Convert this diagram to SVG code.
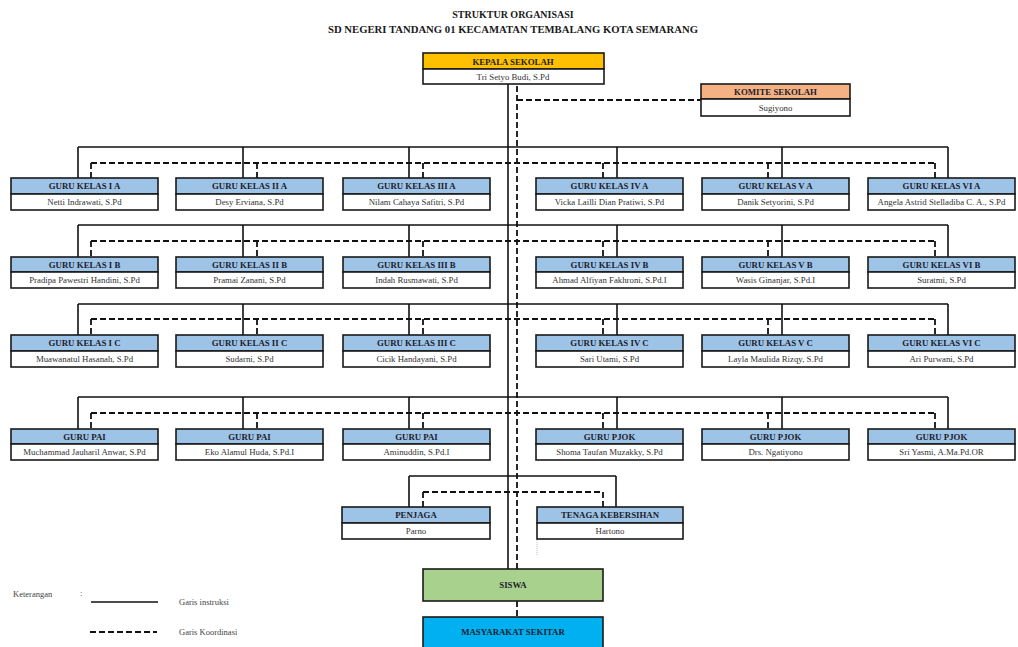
<svg xmlns="http://www.w3.org/2000/svg" width="1018" height="647" viewBox="0 0 1018 647">
<style>
.t{font-family:"Liberation Serif","Times New Roman",serif;font-weight:bold;fill:#1a1a1a;text-anchor:middle}
.h{font-family:"Liberation Serif","Times New Roman",serif;font-weight:bold;font-size:8.8px;fill:#1c1c2c;text-anchor:middle}
.n{font-family:"Liberation Serif","Times New Roman",serif;font-size:8.8px;fill:#333;text-anchor:middle}
.l{font-family:"Liberation Serif","Times New Roman",serif;font-size:8.5px;fill:#444}
.box{stroke:#1a1a1a;stroke-width:1.6}
.hd{fill:#9dc3e6}
.wh{fill:#ffffff}
.sl{fill:none;stroke:#111;stroke-width:1.6}
.ds{fill:none;stroke:#111;stroke-width:1.8;stroke-dasharray:6 3}
</style>
<rect width="1018" height="647" fill="#ffffff"/>
<text class="t" x="513" y="18" font-size="10">STRUKTUR ORGANISASI</text>
<text class="t" x="513" y="33" font-size="10" textLength="370" lengthAdjust="spacingAndGlyphs">SD NEGERI TANDANG 01 KECAMATAN TEMBALANG KOTA SEMARANG</text>

<g id="connectors">
<path class="sl" d="M508 84V569"/>
<path class="ds" d="M517 86V601M517 100H701M517 601V617"/>
<path class="sl" d="M78 147H948M78 147V178M243 147V178M409 147V178M617 147V178M782 147V178M948 147V178"/>
<path class="ds" d="M91 163H935M91 163V178M257 163V178M423 163V178M603 163V178M768 163V178M935 163V178"/>
<path class="sl" d="M78 225H948M78 225V257M243 225V257M409 225V257M617 225V257M782 225V257M948 225V257"/>
<path class="ds" d="M91 241H935M91 241V257M257 241V257M423 241V257M603 241V257M768 241V257M935 241V257"/>
<path class="sl" d="M78 304H948M78 304V335M243 304V335M409 304V335M617 304V335M782 304V335M948 304V335"/>
<path class="ds" d="M91 319H935M91 319V335M257 319V335M423 319V335M603 319V335M768 319V335M935 319V335"/>
<path class="sl" d="M78 397H948M78 397V429M243 397V429M409 397V429M617 397V429M782 397V429M948 397V429"/>
<path class="ds" d="M91 413H935M91 413V429M257 413V429M423 413V429M603 413V429M768 413V429M935 413V429"/>
<path class="sl" d="M409 476H616M409 476V507M616 476V507"/>
<path class="ds" d="M423 492H603M423 492V507M603 492V507"/>
<path d="M537 540V556" stroke="#bbb" stroke-width="1" stroke-dasharray="1 1"/>
</g>

<g id="kepala-sekolah">
<rect x="423" y="53" width="181" height="16" fill="#ffc000" class="box" stroke-width="2.2"/>
<rect x="423" y="69" width="181" height="15" fill="#fff" class="box" stroke-width="2.2"/>
<text class="h" x="513" y="64.5">KEPALA SEKOLAH</text>
<text class="n" x="513" y="80">Tri Setyo Budi, S.Pd</text>
</g>

<g id="komite-sekolah">
<rect x="701" y="84" width="149" height="15" fill="#f4b183" class="box" stroke-width="2"/>
<rect x="701" y="99" width="149" height="17" fill="#fff" class="box" stroke-width="2"/>
<text class="h" x="775.5" y="95">KOMITE SEKOLAH</text>
<text class="n" x="775.5" y="111">Sugiyono</text>
</g>

<g id="guru-kelas-1a"><rect class="box hd" x="11" y="178" width="147" height="16"/><rect class="box wh" x="11" y="194" width="147" height="16"/><text class="h" x="84.5" y="189">GURU KELAS I A</text><text class="n" x="84.5" y="205">Netti Indrawati, S.Pd</text></g>
<g id="guru-kelas-2a"><rect class="box hd" x="176" y="178" width="147" height="16"/><rect class="box wh" x="176" y="194" width="147" height="16"/><text class="h" x="249.5" y="189">GURU KELAS II A</text><text class="n" x="249.5" y="205">Desy Erviana, S.Pd</text></g>
<g id="guru-kelas-3a"><rect class="box hd" x="343" y="178" width="147" height="16"/><rect class="box wh" x="343" y="194" width="147" height="16"/><text class="h" x="416.5" y="189">GURU KELAS III A</text><text class="n" x="416.5" y="205">Nilam Cahaya Safitri, S.Pd</text></g>
<g id="guru-kelas-4a"><rect class="box hd" x="536" y="178" width="147" height="16"/><rect class="box wh" x="536" y="194" width="147" height="16"/><text class="h" x="609.5" y="189">GURU KELAS IV A</text><text class="n" x="609.5" y="205">Vicka Lailli Dian Pratiwi, S.Pd</text></g>
<g id="guru-kelas-5a"><rect class="box hd" x="702" y="178" width="147" height="16"/><rect class="box wh" x="702" y="194" width="147" height="16"/><text class="h" x="775.5" y="189">GURU KELAS V A</text><text class="n" x="775.5" y="205">Danik Setyorini, S.Pd</text></g>
<g id="guru-kelas-6a"><rect class="box hd" x="868" y="178" width="147" height="16"/><rect class="box wh" x="868" y="194" width="147" height="16"/><text class="h" x="941.5" y="189">GURU KELAS VI A</text><text class="n" x="941.5" y="205">Angela Astrid Stelladiba C. A., S.Pd</text></g>

<g id="guru-kelas-1b"><rect class="box hd" x="11" y="257" width="147" height="15"/><rect class="box wh" x="11" y="272" width="147" height="16"/><text class="h" x="84.5" y="267.5">GURU KELAS I B</text><text class="n" x="84.5" y="283">Pradipa Pawestri Handini, S.Pd</text></g>
<g id="guru-kelas-2b"><rect class="box hd" x="176" y="257" width="147" height="15"/><rect class="box wh" x="176" y="272" width="147" height="16"/><text class="h" x="249.5" y="267.5">GURU KELAS II B</text><text class="n" x="249.5" y="283">Pramai Zanani, S.Pd</text></g>
<g id="guru-kelas-3b"><rect class="box hd" x="343" y="257" width="147" height="15"/><rect class="box wh" x="343" y="272" width="147" height="16"/><text class="h" x="416.5" y="267.5">GURU KELAS III B</text><text class="n" x="416.5" y="283">Indah Rusmawati, S.Pd</text></g>
<g id="guru-kelas-4b"><rect class="box hd" x="536" y="257" width="147" height="15"/><rect class="box wh" x="536" y="272" width="147" height="16"/><text class="h" x="609.5" y="267.5">GURU KELAS IV B</text><text class="n" x="609.5" y="283">Ahmad Alfiyan Fakhroni, S.Pd.I</text></g>
<g id="guru-kelas-5b"><rect class="box hd" x="702" y="257" width="147" height="15"/><rect class="box wh" x="702" y="272" width="147" height="16"/><text class="h" x="775.5" y="267.5">GURU KELAS V B</text><text class="n" x="775.5" y="283">Wasis Ginanjar, S.Pd.I</text></g>
<g id="guru-kelas-6b"><rect class="box hd" x="868" y="257" width="147" height="15" stroke-width="2.4"/><rect class="box wh" x="868" y="272" width="147" height="16"/><text class="h" x="941.5" y="267.5">GURU KELAS VI B</text><text class="n" x="941.5" y="283">Suratmi, S.Pd</text></g>

<g id="guru-kelas-1c"><rect class="box hd" x="11" y="335" width="147" height="16"/><rect class="box wh" x="11" y="351" width="147" height="16"/><text class="h" x="84.5" y="346">GURU KELAS I C</text><text class="n" x="84.5" y="362">Muawanatul Hasanah, S.Pd</text></g>
<g id="guru-kelas-2c"><rect class="box hd" x="176" y="335" width="147" height="16"/><rect class="box wh" x="176" y="351" width="147" height="16"/><text class="h" x="249.5" y="346">GURU KELAS II C</text><text class="n" x="249.5" y="362">Sudarni, S.Pd</text></g>
<g id="guru-kelas-3c"><rect class="box hd" x="343" y="335" width="147" height="16"/><rect class="box wh" x="343" y="351" width="147" height="16"/><text class="h" x="416.5" y="346">GURU KELAS III C</text><text class="n" x="416.5" y="362">Cicik Handayani, S.Pd</text></g>
<g id="guru-kelas-4c"><rect class="box hd" x="536" y="335" width="147" height="16"/><rect class="box wh" x="536" y="351" width="147" height="16"/><text class="h" x="609.5" y="346">GURU KELAS IV C</text><text class="n" x="609.5" y="362">Sari Utami, S.Pd</text></g>
<g id="guru-kelas-5c"><rect class="box hd" x="702" y="335" width="147" height="16"/><rect class="box wh" x="702" y="351" width="147" height="16"/><text class="h" x="775.5" y="346">GURU KELAS V C</text><text class="n" x="775.5" y="362">Layla Maulida Rizqy, S.Pd</text></g>
<g id="guru-kelas-6c"><rect class="box hd" x="868" y="335" width="147" height="16"/><rect class="box wh" x="868" y="351" width="147" height="16"/><text class="h" x="941.5" y="346">GURU KELAS VI C</text><text class="n" x="941.5" y="362">Ari Purwani, S.Pd</text></g>

<g id="guru-pai-1"><rect class="box hd" x="11" y="429" width="147" height="15"/><rect class="box wh" x="11" y="444" width="147" height="16"/><text class="h" x="84.5" y="439.5">GURU PAI</text><text class="n" x="84.5" y="455">Muchammad Jauharil Anwar, S.Pd</text></g>
<g id="guru-pai-2"><rect class="box hd" x="176" y="429" width="147" height="15"/><rect class="box wh" x="176" y="444" width="147" height="16"/><text class="h" x="249.5" y="439.5">GURU PAI</text><text class="n" x="249.5" y="455">Eko Alamul Huda, S.Pd.I</text></g>
<g id="guru-pai-3"><rect class="box hd" x="343" y="429" width="147" height="15"/><rect class="box wh" x="343" y="444" width="147" height="16"/><text class="h" x="416.5" y="439.5">GURU PAI</text><text class="n" x="416.5" y="455">Aminuddin, S.Pd.I</text></g>
<g id="guru-pjok-1"><rect class="box hd" x="536" y="429" width="147" height="15"/><rect class="box wh" x="536" y="444" width="147" height="16"/><text class="h" x="609.5" y="439.5">GURU PJOK</text><text class="n" x="609.5" y="455">Shoma Taufan Muzakky, S.Pd</text></g>
<g id="guru-pjok-2"><rect class="box hd" x="702" y="429" width="147" height="15"/><rect class="box wh" x="702" y="444" width="147" height="16"/><text class="h" x="775.5" y="439.5">GURU PJOK</text><text class="n" x="775.5" y="455">Drs. Ngatiyono</text></g>
<g id="guru-pjok-3"><rect class="box hd" x="868" y="429" width="147" height="15"/><rect class="box wh" x="868" y="444" width="147" height="16"/><text class="h" x="941.5" y="439.5">GURU PJOK</text><text class="n" x="941.5" y="455">Sri Yasmi, A.Ma.Pd.OR</text></g>

<g id="penjaga"><rect class="box hd" x="342" y="507" width="148" height="16"/><rect class="box wh" x="342" y="523" width="148" height="16"/><text class="h" x="416" y="518">PENJAGA</text><text class="n" x="416" y="534">Parno</text></g>
<g id="tenaga-kebersihan"><rect class="box hd" x="537" y="507" width="146" height="16"/><rect class="box wh" x="537" y="523" width="146" height="16"/><text class="h" x="610" y="518">TENAGA KEBERSIHAN</text><text class="n" x="610" y="534">Hartono</text></g>

<g id="siswa"><rect class="box" x="423" y="569" width="180" height="32" fill="#a9d18e"/><text class="h" x="513" y="588">SISWA</text></g>
<g id="masyarakat-sekitar"><rect class="box" x="423" y="617" width="180" height="34" fill="#00b0f0"/><text class="h" x="513" y="635" fill="#1f3864">MASYARAKAT SEKITAR</text></g>

<g id="legend">
<text class="l" x="13" y="597">Keterangan</text>
<text class="l" x="80" y="596" fill="#bbb">:</text>
<path d="M91 602H158" stroke="#111" stroke-width="1.6"/>
<text class="l" x="179" y="605">Garis instruksi</text>
<path d="M90 632H157" stroke="#111" stroke-width="1.8" stroke-dasharray="6 3"/>
<text class="l" x="179" y="635">Garis Koordinasi</text>
</g>
</svg>
